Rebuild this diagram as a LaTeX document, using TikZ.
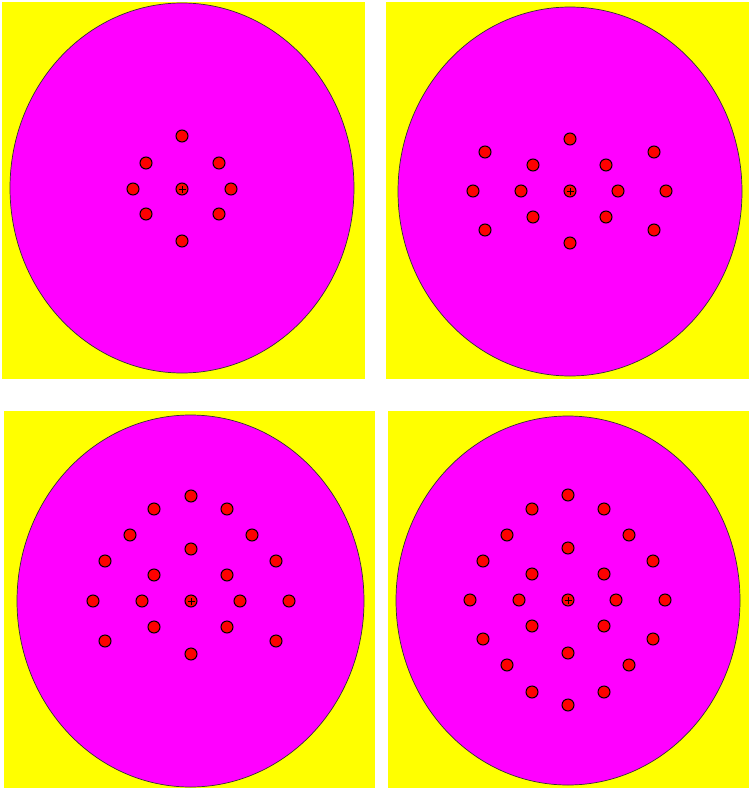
\documentclass[tikz,border=0pt]{standalone}
\definecolor{ylw}{RGB}{255,255,0}
\definecolor{mgt}{RGB}{255,0,255}
\definecolor{rdd}{RGB}{255,0,0}
\begin{document}
\begin{tikzpicture}[x=1pt,y=-1pt,
  panel/.style={fill=ylw,draw=none},
  disc/.style={fill=mgt,draw=black!80,line width=0.7pt},
  hole/.style={circle,draw=black,fill=rdd,line width=1pt,minimum size=12pt,inner sep=0pt},
  cross/.style={draw=black,line width=0.6pt}]
\useasboundingbox (0,0) rectangle (749,789);
\fill[white] (0,0) rectangle (749,789);
% panels
\path[panel] (2,2) rectangle (365,379);
\path[panel] (386,2) rectangle (749,379);
\path[panel] (4,411) rectangle (375,788);
\path[panel] (388,411) rectangle (749,788);
% discs
\draw[disc] (182,188) ellipse [x radius=172, y radius=185];
\draw[disc] (570,191.5) ellipse [x radius=172, y radius=184.5];
\draw[disc] (190.5,601) ellipse [x radius=173.5, y radius=186];
\draw[disc] (568,600.5) ellipse [x radius=172, y radius=184.5];
% panel 1 holes
\foreach \x/\y [count=\i] in {182/189,182/136,146/163,219/163,133/189,231/189,146/214,219/214,182/241}
  \node[hole] (a\i) at (\x,\y) {};
% panel 2 holes
\foreach \x/\y [count=\i] in {570/191,570/139,533/165,606/165,485/152,654/152,473/191,521/191,618/191,666/191,533/217,606/217,485/230,654/230,570/243}
  \node[hole] (b\i) at (\x,\y) {};
% panel 3 holes
\foreach \x/\y [count=\i] in {191/601,191/496,154/509,227/509,130/535,252/535,191/549,105/561,276/561,154/575,227/575,93/601,142/601,240/601,289/601,154/627,227/627,105/641,276/641,191/654}
  \node[hole] (c\i) at (\x,\y) {};
% panel 4 holes
\foreach \x/\y [count=\i] in {568/600,568/495,532/509,604/509,507/535,629/535,568/548,483/561,653/561,532/574,604/574,470/600,519/600,616/600,665/600,532/626,604/626,483/639,653/639,568/653,507/665,629/665,532/692,604/692,568/705}
  \node[hole] (d\i) at (\x,\y) {};
% centre marks
\foreach \n in {a1,b1,c1,d1}{
  \draw[cross] ([xshift=-3.5pt]\n.center) -- ([xshift=3.5pt]\n.center);
  \draw[cross] ([yshift=-3.5pt]\n.center) -- ([yshift=3.5pt]\n.center);
}
\end{tikzpicture}
\end{document}
